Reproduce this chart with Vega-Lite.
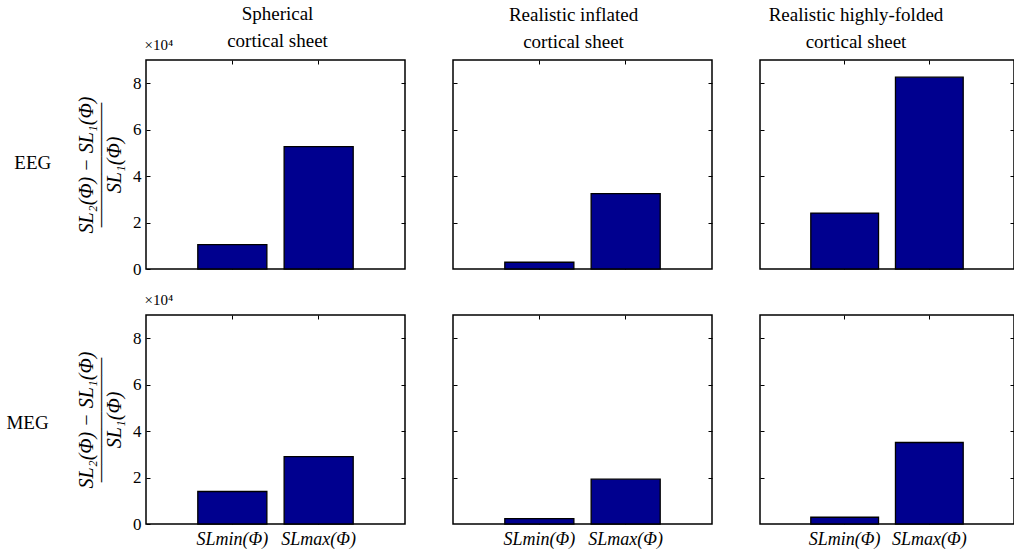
{
  "$schema": "https://vega.github.io/schema/vega-lite/v6.json",
  "padding": {"left": 6, "top": 4, "right": 0, "bottom": 0},
  "background": "white",
  "config": {
    "font": "Liberation Serif",
    "view": {"stroke": "black", "strokeWidth": 1.5},
    "title": {"font": "Liberation Serif", "fontSize": 19, "fontWeight": "normal", "color": "black"},
    "axis": {"labelFont": "Liberation Serif", "titleFont": "Liberation Serif", "labelColor": "black", "titleColor": "black", "tickColor": "black", "domain": false, "grid": false}
  },
  "datasets": {
    "bars": [
      {"modality": "EEG", "model": "Spherical", "measure": "SLmin(Φ)", "value": 1.05},
      {"modality": "EEG", "model": "Spherical", "measure": "SLmax(Φ)", "value": 5.27},
      {"modality": "EEG", "model": "Inflated", "measure": "SLmin(Φ)", "value": 0.29},
      {"modality": "EEG", "model": "Inflated", "measure": "SLmax(Φ)", "value": 3.25},
      {"modality": "EEG", "model": "Folded", "measure": "SLmin(Φ)", "value": 2.41},
      {"modality": "EEG", "model": "Folded", "measure": "SLmax(Φ)", "value": 8.26},
      {"modality": "MEG", "model": "Spherical", "measure": "SLmin(Φ)", "value": 1.4},
      {"modality": "MEG", "model": "Spherical", "measure": "SLmax(Φ)", "value": 2.9},
      {"modality": "MEG", "model": "Inflated", "measure": "SLmin(Φ)", "value": 0.23},
      {"modality": "MEG", "model": "Inflated", "measure": "SLmax(Φ)", "value": 1.93},
      {"modality": "MEG", "model": "Folded", "measure": "SLmin(Φ)", "value": 0.29},
      {"modality": "MEG", "model": "Folded", "measure": "SLmax(Φ)", "value": 3.51}
    ]
  },
  "spacing": 13,
  "vconcat": [
    {
      "title": {"text": "EEG", "orient": "left", "angle": 0, "anchor": "middle", "font": "Liberation Serif", "fontSize": 19, "offset": 6, "dy": 13},
      "spacing": 48,
      "bounds": "flush",
      "hconcat": [
        {
          "title": {"text": ["Spherical", "cortical sheet"], "font": "Liberation Serif", "offset": -14, "lineHeight": 27, "dx": 2},
          "width": 259, "height": 209,
          "data": {"name": "bars"},
          "transform": [{"filter": "datum.modality === 'EEG' && datum.model === 'Spherical'"}],
          "layer": [
            {"mark": {"type": "bar", "color": "#00008F", "stroke": "black", "strokeWidth": 1.3},
             "encoding": {
               "x": {"field": "measure", "type": "nominal", "sort": ["SLmin(Φ)", "SLmax(Φ)"], "scale": {"paddingInner": 0.2, "paddingOuter": 0.6}, "axis": {"orient": "bottom", "labels": false, "title": null, "tickSize": -4}},
               "y": {"field": "value", "type": "quantitative", "scale": {"domain": [0, 9], "nice": false}, "axis": {"orient": "left", "values": [0, 2, 4, 6, 8], "tickSize": -4, "labelPadding": 9, "labelFont": "Liberation Serif", "labelFontSize": 17, "title": ["SL₂(Φ) − SL₁(Φ)", "———————", "SL₁(Φ)"], "titleFont": "Liberation Serif", "titleFontSize": 20, "titleFontStyle": "italic", "titleFontWeight": "normal", "titleLineHeight": 14, "titlePadding": 8}}
             }},
            {"mark": {"type": "bar", "opacity": 0},
             "encoding": {
               "x": {"field": "measure", "type": "nominal", "sort": ["SLmin(Φ)", "SLmax(Φ)"], "axis": {"orient": "top", "labels": false, "tickSize": -4, "title": "×10⁴", "titleFont": "Liberation Serif", "titleFontSize": 15, "titleFontWeight": "normal", "titleAnchor": "start", "titleAlign": "left", "titleX": -2, "titleY": -8, "titleBaseline": "bottom"}},
               "y": {"field": "value", "type": "quantitative", "axis": {"orient": "right", "values": [2, 4, 6, 8], "tickSize": -4, "labels": false, "title": null}}
             }}
          ],
          "resolve": {"axis": {"x": "independent", "y": "independent"}}
        },
        {
          "title": {"text": ["Realistic inflated", "cortical sheet"], "font": "Liberation Serif", "offset": 8, "lineHeight": 27, "dx": -9},
          "width": 259, "height": 209,
          "data": {"name": "bars"},
          "transform": [{"filter": "datum.modality === 'EEG' && datum.model === 'Inflated'"}],
          "layer": [
            {"mark": {"type": "bar", "color": "#00008F", "stroke": "black", "strokeWidth": 1.3},
             "encoding": {
               "x": {"field": "measure", "type": "nominal", "sort": ["SLmin(Φ)", "SLmax(Φ)"], "scale": {"paddingInner": 0.2, "paddingOuter": 0.6}, "axis": {"orient": "bottom", "labels": false, "title": null, "tickSize": -4}},
               "y": {"field": "value", "type": "quantitative", "scale": {"domain": [0, 9], "nice": false}, "axis": {"orient": "left", "values": [2, 4, 6, 8], "tickSize": -4, "labels": false, "title": null}}
             }},
            {"mark": {"type": "bar", "opacity": 0},
             "encoding": {
               "x": {"field": "measure", "type": "nominal", "sort": ["SLmin(Φ)", "SLmax(Φ)"], "axis": {"orient": "top", "labels": false, "tickSize": -4, "title": null}},
               "y": {"field": "value", "type": "quantitative", "axis": {"orient": "right", "values": [2, 4, 6, 8], "tickSize": -4, "labels": false, "title": null}}
             }}
          ],
          "resolve": {"axis": {"x": "independent", "y": "independent"}}
        },
        {
          "title": {"text": ["Realistic highly-folded", "cortical sheet"], "font": "Liberation Serif", "offset": 8, "lineHeight": 27, "dx": -31},
          "width": 254, "height": 209,
          "data": {"name": "bars"},
          "transform": [{"filter": "datum.modality === 'EEG' && datum.model === 'Folded'"}],
          "layer": [
            {"mark": {"type": "bar", "color": "#00008F", "stroke": "black", "strokeWidth": 1.3},
             "encoding": {
               "x": {"field": "measure", "type": "nominal", "sort": ["SLmin(Φ)", "SLmax(Φ)"], "scale": {"paddingInner": 0.2, "paddingOuter": 0.6}, "axis": {"orient": "bottom", "labels": false, "title": null, "tickSize": -4}},
               "y": {"field": "value", "type": "quantitative", "scale": {"domain": [0, 9], "nice": false}, "axis": {"orient": "left", "values": [2, 4, 6, 8], "tickSize": -4, "labels": false, "title": null}}
             }},
            {"mark": {"type": "bar", "opacity": 0},
             "encoding": {
               "x": {"field": "measure", "type": "nominal", "sort": ["SLmin(Φ)", "SLmax(Φ)"], "axis": {"orient": "top", "labels": false, "tickSize": -4, "title": null}},
               "y": {"field": "value", "type": "quantitative", "axis": {"orient": "right", "values": [2, 4, 6, 8], "tickSize": -4, "labels": false, "title": null}}
             }}
          ],
          "resolve": {"axis": {"x": "independent", "y": "independent"}}
        }
      ]
    },
    {
      "title": {"text": "MEG", "orient": "left", "angle": 0, "anchor": "middle", "font": "Liberation Serif", "fontSize": 19, "offset": 6, "dy": -6},
      "spacing": 48,
      "bounds": "flush",
      "hconcat": [
        {
          "width": 259, "height": 209,
          "data": {"name": "bars"},
          "transform": [{"filter": "datum.modality === 'MEG' && datum.model === 'Spherical'"}],
          "layer": [
            {"mark": {"type": "bar", "color": "#00008F", "stroke": "black", "strokeWidth": 1.3},
             "encoding": {
               "x": {"field": "measure", "type": "nominal", "sort": ["SLmin(Φ)", "SLmax(Φ)"], "scale": {"paddingInner": 0.2, "paddingOuter": 0.6}, "axis": {"orient": "bottom", "labelAngle": 0, "labelFont": "Liberation Serif", "labelFontSize": 18, "labelFontStyle": "italic", "labelPadding": 10, "title": null, "tickSize": -4}},
               "y": {"field": "value", "type": "quantitative", "scale": {"domain": [0, 9], "nice": false}, "axis": {"orient": "left", "values": [0, 2, 4, 6, 8], "tickSize": -4, "labelPadding": 9, "labelFont": "Liberation Serif", "labelFontSize": 17, "title": ["SL₂(Φ) − SL₁(Φ)", "———————", "SL₁(Φ)"], "titleFont": "Liberation Serif", "titleFontSize": 20, "titleFontStyle": "italic", "titleFontWeight": "normal", "titleLineHeight": 14, "titlePadding": 8}}
             }},
            {"mark": {"type": "bar", "opacity": 0},
             "encoding": {
               "x": {"field": "measure", "type": "nominal", "sort": ["SLmin(Φ)", "SLmax(Φ)"], "axis": {"orient": "top", "labels": false, "tickSize": -4, "title": "×10⁴", "titleFont": "Liberation Serif", "titleFontSize": 15, "titleFontWeight": "normal", "titleAnchor": "start", "titleAlign": "left", "titleX": -2, "titleY": -8, "titleBaseline": "bottom"}},
               "y": {"field": "value", "type": "quantitative", "axis": {"orient": "right", "values": [2, 4, 6, 8], "tickSize": -4, "labels": false, "title": null}}
             }}
          ],
          "resolve": {"axis": {"x": "independent", "y": "independent"}}
        },
        {
          "width": 259, "height": 209,
          "data": {"name": "bars"},
          "transform": [{"filter": "datum.modality === 'MEG' && datum.model === 'Inflated'"}],
          "layer": [
            {"mark": {"type": "bar", "color": "#00008F", "stroke": "black", "strokeWidth": 1.3},
             "encoding": {
               "x": {"field": "measure", "type": "nominal", "sort": ["SLmin(Φ)", "SLmax(Φ)"], "scale": {"paddingInner": 0.2, "paddingOuter": 0.6}, "axis": {"orient": "bottom", "labelAngle": 0, "labelFont": "Liberation Serif", "labelFontSize": 18, "labelFontStyle": "italic", "labelPadding": 10, "title": null, "tickSize": -4}},
               "y": {"field": "value", "type": "quantitative", "scale": {"domain": [0, 9], "nice": false}, "axis": {"orient": "left", "values": [2, 4, 6, 8], "tickSize": -4, "labels": false, "title": null}}
             }},
            {"mark": {"type": "bar", "opacity": 0},
             "encoding": {
               "x": {"field": "measure", "type": "nominal", "sort": ["SLmin(Φ)", "SLmax(Φ)"], "axis": {"orient": "top", "labels": false, "tickSize": -4, "title": null}},
               "y": {"field": "value", "type": "quantitative", "axis": {"orient": "right", "values": [2, 4, 6, 8], "tickSize": -4, "labels": false, "title": null}}
             }}
          ],
          "resolve": {"axis": {"x": "independent", "y": "independent"}}
        },
        {
          "width": 254, "height": 209,
          "data": {"name": "bars"},
          "transform": [{"filter": "datum.modality === 'MEG' && datum.model === 'Folded'"}],
          "layer": [
            {"mark": {"type": "bar", "color": "#00008F", "stroke": "black", "strokeWidth": 1.3},
             "encoding": {
               "x": {"field": "measure", "type": "nominal", "sort": ["SLmin(Φ)", "SLmax(Φ)"], "scale": {"paddingInner": 0.2, "paddingOuter": 0.6}, "axis": {"orient": "bottom", "labelAngle": 0, "labelFont": "Liberation Serif", "labelFontSize": 18, "labelFontStyle": "italic", "labelPadding": 10, "title": null, "tickSize": -4}},
               "y": {"field": "value", "type": "quantitative", "scale": {"domain": [0, 9], "nice": false}, "axis": {"orient": "left", "values": [2, 4, 6, 8], "tickSize": -4, "labels": false, "title": null}}
             }},
            {"mark": {"type": "bar", "opacity": 0},
             "encoding": {
               "x": {"field": "measure", "type": "nominal", "sort": ["SLmin(Φ)", "SLmax(Φ)"], "axis": {"orient": "top", "labels": false, "tickSize": -4, "title": null}},
               "y": {"field": "value", "type": "quantitative", "axis": {"orient": "right", "values": [2, 4, 6, 8], "tickSize": -4, "labels": false, "title": null}}
             }}
          ],
          "resolve": {"axis": {"x": "independent", "y": "independent"}}
        }
      ]
    }
  ]
}
